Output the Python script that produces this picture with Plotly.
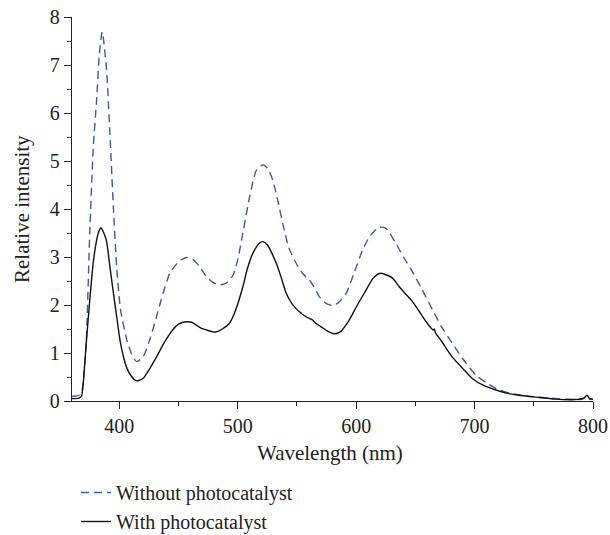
import plotly.graph_objects as go

# Wavelength (nm) and relative intensity
wl_without = [360, 363, 366, 368, 369.5, 372, 375, 378, 380.8, 383, 385.5, 389, 392, 395, 397.7,
              401, 406, 410, 414.5, 420, 426, 431.4, 437, 442.6, 450, 456.6, 462, 467.8, 473.5,
              479, 484, 490, 496, 500, 504.3, 510, 515.6, 521.2, 525, 529.6, 534, 538, 543, 549.3,
              555, 560.5, 565, 569, 575, 580, 585, 591.5, 598, 605.5, 612, 619.5, 625, 633.6,
              640, 647.6, 655, 664.5, 672, 681.3, 690, 701, 710, 718, 730, 748.7, 770, 788,
              792, 795, 797, 800]
int_without = [0.10, 0.10, 0.12, 0.17, 0.40, 1.20, 3.50, 5.30, 6.27, 7.20, 7.69, 6.96, 5.58, 4.00, 2.80,
               1.90, 1.30, 1.00, 0.82, 0.92, 1.30, 1.76, 2.25, 2.66, 2.90, 2.99, 2.95, 2.80, 2.59,
               2.47, 2.42, 2.45, 2.62, 2.95, 3.50, 4.25, 4.80, 4.92, 4.85, 4.60, 4.15, 3.70, 3.20, 2.87,
               2.65, 2.52, 2.35, 2.17, 2.03, 1.99, 2.05, 2.24, 2.65, 3.15, 3.45, 3.62, 3.60, 3.28,
               3.00, 2.69, 2.35, 1.90, 1.55, 1.20, 0.88, 0.54, 0.38, 0.26, 0.16, 0.09, 0.05, 0.03,
               0.05, 0.10, 0.04, 0.03]

wl_with = [360, 363, 366, 368, 369.5, 372, 375, 378, 380.8, 382.5, 384.4, 386.5, 389, 392, 394.8, 397.7,
           401, 406, 410, 414.5, 420, 425, 431.4, 438, 445, 450, 456.6, 461, 465, 469, 473.5, 479,
           482, 487, 493, 498, 504.3, 508, 512.8, 518.4, 521.2, 525, 532.5, 537, 541, 546, 552,
           558, 563, 566, 572, 577, 581.6, 587, 594.2, 601, 608.3, 614, 618, 621, 624, 630.7,
           636.4, 641, 647.6, 655, 660, 665, 666, 667, 672, 681, 690, 698, 708, 718, 728, 737.5,
           752, 768, 785, 792, 795, 797, 800]
int_with = [0.05, 0.05, 0.06, 0.10, 0.37, 1.20, 2.10, 2.90, 3.35, 3.52, 3.61, 3.52, 3.35, 2.80, 2.28, 1.76,
            1.20, 0.71, 0.52, 0.42, 0.47, 0.65, 0.92, 1.22, 1.48, 1.60, 1.65, 1.64, 1.58, 1.52, 1.48, 1.44,
            1.44, 1.50, 1.62, 1.88, 2.38, 2.75, 3.08, 3.29, 3.32, 3.25, 2.87, 2.55, 2.24, 2.02, 1.86,
            1.75, 1.69, 1.62, 1.52, 1.44, 1.40, 1.45, 1.69, 2.00, 2.31, 2.55, 2.64, 2.66, 2.64, 2.56,
            2.38, 2.25, 2.07, 1.80, 1.62, 1.48, 1.50, 1.42, 1.25, 0.92, 0.68, 0.47, 0.32, 0.23, 0.16, 0.12,
            0.08, 0.04, 0.03, 0.06, 0.12, 0.05, 0.04]

x_ticks = [400, 500, 600, 700, 800]
y_ticks = [0, 1, 2, 3, 4, 5, 6, 7, 8]
x_title = "Wavelength (nm)"
y_title = "Relative intensity"

FONT = "Liberation Serif"
TXT = "#222222"
W, H = 610, 535
L, R, T, B = 72, 17, 17, 134
PW, PH = W - L - R, H - T - B

fig = go.Figure()
fig.add_trace(go.Scatter(
    x=wl_without, y=int_without, mode="lines", name="Without photocatalyst",
    line=dict(color="#3a5aa8", width=1.4, dash="8px,5px", shape="spline", smoothing=0.6),
))
fig.add_trace(go.Scatter(
    x=wl_with, y=int_with, mode="lines", name="With photocatalyst",
    line=dict(color="#111111", width=1.4, shape="spline", smoothing=0.6),
))

fig.update_layout(
    width=W, height=H,
    margin=dict(l=L, r=R, t=T, b=B, autoexpand=False),
    paper_bgcolor="white", plot_bgcolor="white",
    font=dict(family=FONT, size=20, color=TXT),
    showlegend=True,
    legend=dict(
        xref="container", yref="container",
        x=76 / W, xanchor="left", y=1 - 473 / H, yanchor="top",
        bgcolor="rgba(0,0,0,0)", font=dict(family=FONT, size=20, color=TXT),
        tracegroupgap=0, itemwidth=30,
    ),
    xaxis=dict(
        range=[360, 800], tickvals=x_ticks, ticktext=[str(v) for v in x_ticks],
        showgrid=False, zeroline=False, showline=True, linecolor=TXT, linewidth=1.3,
        ticks="outside", ticklen=7, tickwidth=1.3, tickcolor=TXT,
        minor=dict(dtick=50, tick0=350, ticks="outside", ticklen=4, tickwidth=1.3, tickcolor=TXT, showgrid=False),
        tickfont=dict(family=FONT, size=20),
        ticklabeloverflow="allow", automargin=False,
    ),
    yaxis=dict(
        range=[0, 8], tickvals=y_ticks,
        showgrid=False, zeroline=False, showline=True, linecolor=TXT, linewidth=1.3,
        ticks="outside", ticklen=7, tickwidth=1.3, tickcolor=TXT,
        minor=dict(dtick=0.5, ticks="outside", ticklen=4, tickwidth=1.3, tickcolor=TXT, showgrid=False),
        tickfont=dict(family=FONT, size=20),
        ticklabeloverflow="allow", automargin=False,
    ),
    annotations=[
        dict(text=x_title, xref="paper", yref="paper", x=0.496, y=-(453 - (T + PH)) / PH,
             xanchor="center", yanchor="middle", showarrow=False,
             font=dict(family=FONT, size=21, color=TXT)),
        dict(text=y_title, xref="paper", yref="paper", x=(22 - L) / PW, y=0.5, textangle=-90,
             xanchor="center", yanchor="middle", showarrow=False,
             font=dict(family=FONT, size=21, color=TXT)),
    ],
)

# remove the browser's default 8px page margin so the figure fills the window exactly
fig.write_html("out.html", config={"displayModeBar": False},
               post_script="document.body.style.margin='0';")
